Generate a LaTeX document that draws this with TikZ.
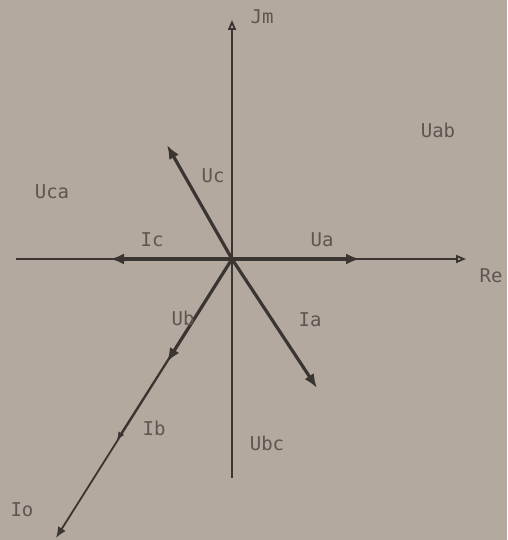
\documentclass[tikz,border=0pt]{standalone}
\usepackage{fontspec}
\setmonofont{DejaVu Sans Mono}
\usepackage{tikz}
\usetikzlibrary{positioning,calc,arrows.meta}
\definecolor{paper}{HTML}{B3A99F}
\definecolor{ink}{HTML}{3B3531}
\definecolor{pencil}{HTML}{5E5650}

\begin{document}
\begin{tikzpicture}[x=1pt,y=-1pt,
      axis/.style={draw=ink,line width=1.8pt,-{Triangle[open,length=10pt,width=8pt]}},
      phasor/.style={draw=ink,line width=3.2pt,-{Latex[length=14pt,width=11pt]}},
      thin phasor/.style={draw=ink,line width=1.8pt,-{Latex[length=11pt,width=9pt]}},
      lbl/.style={text=pencil,font=\ttfamily\fontsize{19}{21}\selectfont,inner sep=1pt}]
    \fill[paper] (0,0) rectangle (507,540);
    \useasboundingbox (0,0) rectangle (507,540);
    % axes
    \coordinate (o) at (232,259);
    \coordinate (reL) at (16,259);
    \coordinate (reR) at (466,259);
    \coordinate (imB) at (232,478);
    \coordinate (imT) at (232,20);
    \draw[axis] (reL)--(reR);
    \draw[axis] (imB)--(imT);
    % phasor tips
    \coordinate (ua) at (360,259);
    \coordinate (ic) at (110,259);
    \coordinate (uc) at (167,145);
    \coordinate (ia) at (317,388);
    \coordinate (ub) at (167,362);
    \coordinate (ib) at (117,440);
    \coordinate (io) at (56,538);
    \draw[thin phasor] (o)--(io);
    \draw[thin phasor,-{Latex[length=8pt,width=7pt]}] (o)--(ib);
    \draw[phasor] (o)--(ub);
    \draw[phasor] (o)--(ua);
    \draw[phasor] (o)--(ic);
    \draw[phasor] (o)--(uc);
    \draw[phasor] (o)--(ia);
    % labels
    \node[lbl] (jm) at (262,17) {Jm};
    \node[lbl] (re) at (491,276) {Re};
    \node[lbl] (uab) at (438,130) {Uab};
    \node[lbl] (uca) at (52,192) {Uca};
    \node[lbl] (lc) at (213,176) {Uc};
    \node[lbl] (lic) at (152,240) {Ic};
    \node[lbl] (lua) at (322,240) {Ua};
    \node[lbl] (lub) at (183,318) {Ub};
    \node[lbl] (lia) at (310,320) {Ia};
    \node[lbl] (lib) at (154,428) {Ib};
    \node[lbl] (ubc) at (267,443) {Ubc};
    \node[lbl] (lio) at (22,510) {Io};
  \end{tikzpicture}
\end{document}
